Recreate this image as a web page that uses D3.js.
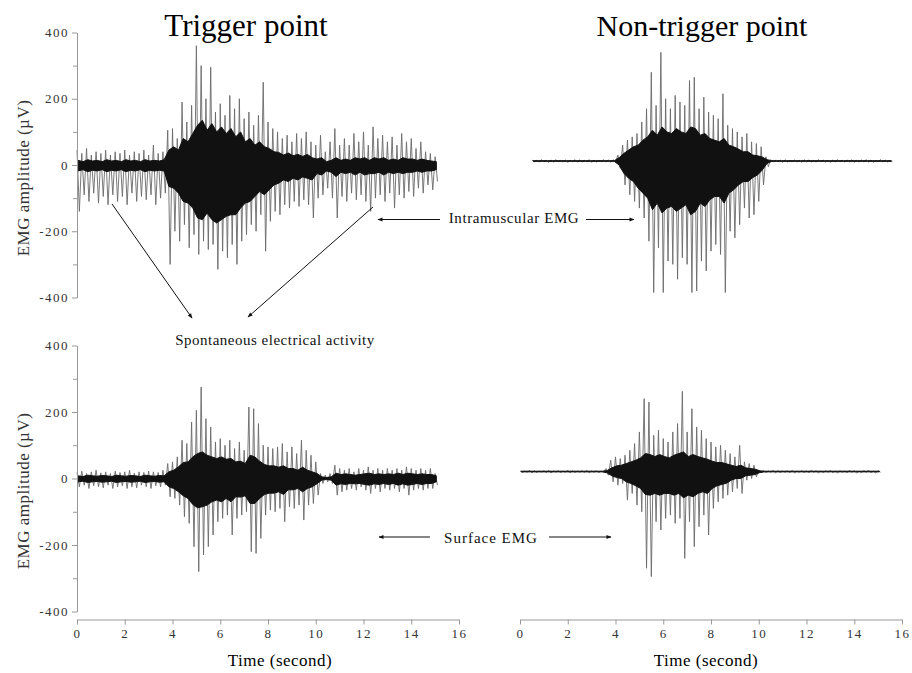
<!DOCTYPE html>
<html>
<head>
    <meta charset="utf-8">
    <title>EMG trigger point</title>
    <script src="https://cdnjs.cloudflare.com/ajax/libs/d3/7.8.5/d3.min.js"></script>
    <style>
        body { margin: 0; background: #fff; }
        text { font-family: "Liberation Serif", "DejaVu Serif", serif; }
    </style>
</head>
<body>
<script>
    var width = 912,
        height = 673;

    // sampling grid of the traces (seconds)
    var step = 0.2;

    // trigger point, intramuscular (top left)
    // hi/lo = tallest spikes per bin, midHi/midLo = extent of the dense dark band
    var tlStart = 0;
    var tlHi = [45,35,50,30,40,35,45,30,40,35,45,30,40,35,45,30,60,35,40,105,
        110,80,190,130,180,360,300,200,295,160,185,150,210,170,200,140,160,120,150,250,
        130,110,100,80,90,70,95,80,100,70,60,90,40,70,110,60,80,60,95,70,
        100,60,115,80,90,70,85,60,95,70,80,50,70,40,35,25];
    var tlLo = [-140,-90,-110,-85,-115,-95,-120,-90,-110,-95,-120,-85,-110,-95,-105,-90,-120,-100,-85,-300,
        -200,-230,-180,-250,-210,-270,-230,-255,-240,-315,-260,-280,-240,-300,-230,-210,-180,-200,-150,-260,
        -170,-140,-150,-120,-130,-110,-125,-105,-120,-160,-100,-90,-70,-100,-160,-95,-110,-85,-105,-90,
        -110,-140,-100,-90,-110,-85,-130,-90,-100,-80,-95,-70,-85,-60,-75,-50];
    var tlMidHi = [14,10,16,12,14,10,16,12,14,10,16,12,14,10,16,12,14,12,16,45,
        55,45,80,70,95,120,135,105,125,100,115,95,110,85,100,70,80,60,70,55,
        50,40,38,30,36,28,32,26,32,22,18,22,10,14,22,14,18,14,22,18,
        22,14,22,18,22,14,18,14,22,18,18,14,18,14,12,10];
    var tlMidLo = [-18,-14,-20,-16,-18,-14,-20,-16,-18,-14,-20,-16,-18,-14,-20,-16,-18,-16,-18,-65,
        -70,-85,-110,-115,-130,-160,-165,-145,-165,-175,-165,-155,-150,-150,-130,-115,-110,-95,-80,-90,
        -75,-60,-55,-45,-50,-40,-45,-36,-40,-45,-26,-30,-18,-22,-35,-22,-26,-22,-30,-22,
        -30,-26,-26,-22,-30,-22,-26,-22,-26,-22,-22,-18,-22,-18,-18,-14];

    // non-trigger point, intramuscular (top right)
    var trStart = 0.5;
    var trHi = [15,14,16,14,15,16,14,15,14,16,15,14,16,15,14,16,15,16,30,60,
        75,85,95,130,170,280,180,340,200,170,210,190,180,255,265,170,205,160,150,140,
        215,120,110,100,85,95,70,65,55,25,16,14,15,16,14,15,14,16,15,14,
        16,15,14,15,16,14,15,16,14,15,16,15,14,16,15,14];
    var trLo = [10,9,10,8,9,10,9,8,10,9,9,10,8,9,10,9,8,9,-10,-60,
        -90,-110,-130,-160,-230,-385,-250,-385,-290,-300,-345,-280,-300,-385,-380,-290,-320,-260,-240,-270,
        -385,-200,-220,-180,-130,-160,-150,-110,-60,-5,9,10,8,9,10,9,8,10,9,9,
        10,9,8,9,10,9,10,8,9,10,9,8,10,9,9,10];
    var trMidHi = [13,13,13,13,13,13,13,13,13,13,13,13,13,13,13,13,13,13,22,35,
        45,55,60,75,85,105,90,115,100,95,110,100,95,115,110,90,95,80,75,70,
        80,60,55,48,40,40,30,28,24,16,13,13,13,13,13,13,13,13,13,13,
        13,13,13,13,13,13,13,13,13,13,13,13,13,13,13,13];
    var trMidLo = [11,11,11,11,11,11,11,11,11,11,11,11,11,11,11,11,11,11,0,-25,
        -40,-50,-70,-85,-100,-135,-115,-145,-130,-125,-140,-130,-120,-150,-140,-115,-125,-105,-95,-95,
        -115,-85,-75,-60,-50,-50,-38,-30,-15,5,11,11,11,11,11,11,11,11,11,11,
        11,11,11,11,11,11,11,11,11,11,11,11,11,11,11,11];

    // trigger point, surface (bottom left)
    var blStart = 0;
    var blHi = [18,22,15,20,25,17,20,15,22,18,20,25,16,20,18,22,20,18,25,45,
        50,65,115,105,170,205,275,180,155,110,120,100,115,90,110,85,215,210,165,100,
        95,90,95,105,80,95,75,115,85,70,50,15,10,15,40,30,25,30,20,30,
        25,35,25,30,25,30,25,30,25,35,30,25,30,25,30,15];
    var blLo = [-25,-20,-30,-22,-25,-28,-20,-30,-25,-22,-30,-25,-28,-20,-25,-30,-22,-25,-20,-55,
        -60,-80,-115,-135,-205,-280,-230,-205,-170,-130,-120,-110,-170,-120,-110,-100,-220,-225,-180,-110,
        -95,-100,-90,-130,-85,-90,-80,-125,-80,-75,-50,-15,-10,-15,-50,-40,-35,-30,-35,-25,
        -35,-45,-30,-40,-30,-35,-30,-40,-30,-50,-35,-30,-35,-30,-30,-20];
    var blMidHi = [8,6,10,8,7,9,8,6,10,8,7,9,8,6,10,8,7,9,8,20,
        25,35,48,50,65,75,80,70,65,60,65,58,60,50,52,45,70,65,52,42,
        38,38,34,38,30,30,25,34,25,20,15,5,3,5,16,12,14,12,10,12,
        14,16,12,14,12,14,12,16,12,16,14,12,14,12,12,8];
    var blMidLo = [-10,-8,-12,-10,-9,-11,-10,-8,-12,-10,-9,-11,-10,-8,-12,-10,-9,-11,-10,-25,
        -30,-40,-52,-60,-78,-88,-85,-80,-70,-65,-70,-60,-70,-55,-56,-52,-75,-75,-60,-48,
        -44,-44,-40,-48,-34,-34,-30,-40,-30,-25,-16,-5,-3,-5,-20,-16,-18,-15,-16,-15,
        -18,-20,-16,-18,-15,-18,-15,-20,-16,-20,-18,-15,-18,-15,-15,-10];

    // non-trigger point, surface (bottom right)
    var brStart = 0;
    var brHi = [23,22,24,23,22,23,24,22,23,22,24,23,22,23,24,22,23,22,30,55,
        65,60,70,85,105,140,240,230,130,145,120,110,140,165,262,140,210,155,145,120,
        110,95,100,85,75,65,100,50,45,40,25,23,22,24,23,22,23,24,22,23,
        22,24,23,22,23,24,22,23,22,24,23,22,23,24,22,23];
    var brLo = [18,19,17,18,19,18,17,19,18,19,17,18,19,18,17,19,18,19,10,-10,
        -20,-15,-65,-45,-80,-100,-270,-295,-130,-155,-120,-110,-135,-120,-240,-130,-205,-145,-110,-170,
        -90,-70,-60,-50,-40,-30,-45,-5,0,5,17,18,19,17,18,19,18,17,19,18,
        18,19,17,18,19,18,17,19,18,19,17,18,19,18,17,19];
    var brMidHi = [22,22,22,22,22,22,22,22,22,22,22,22,22,22,22,22,22,22,24,32,
        38,40,45,50,55,62,75,72,66,72,66,62,70,75,80,66,72,66,62,58,
        52,48,48,44,40,36,40,32,30,28,23,22,22,22,22,22,22,22,22,22,
        22,22,22,22,22,22,22,22,22,22,22,22,22,22,22,22];
    var brMidLo = [20,20,20,20,20,20,20,20,20,20,20,20,20,20,20,20,20,20,17,8,
        3,0,-10,-15,-22,-30,-48,-50,-45,-50,-45,-45,-50,-45,-58,-50,-55,-45,-40,-45,
        -30,-22,-18,-14,-5,0,0,8,10,12,18,20,20,20,20,20,20,20,20,20,
        20,20,20,20,20,20,20,20,20,20,20,20,20,20,20,20];

    var yTicks = [-400, -200, 0, 200, 400],
        yMinor = [-300, -100, 100, 300],
        xTicks = [0, 2, 4, 6, 8, 10, 12, 14, 16];

    var xLeft = d3.scaleLinear().domain([0, 16]).range([77, 459]);
    var xRight = d3.scaleLinear().domain([0, 16]).range([520, 902]);
    var yTop = d3.scaleLinear().domain([-400, 400]).range([297.5, 32.5]);
    var yBottom = d3.scaleLinear().domain([-400, 400]).range([611.5, 345.5]);

    var svg = d3.select("body")
        .append("svg")
        .attr("width", width)
        .attr("height", height);

    var drawTrace = function(x, y, start, hi, lo, midHi, midLo) {
        // spikes: up to hi, down to lo half a bin later
        var pts = [];
        hi.forEach(function(v, i) {
            pts.push([start + i * step, v]);
            pts.push([start + i * step + step / 2, lo[i]]);
        });
        svg.append("path")
            .attr("d", d3.line().x(function(d) { return x(d[0]); }).y(function(d) { return y(d[1]); })(pts))
            .attr("fill", "none")
            .attr("stroke", "#6a6a6a")
            .attr("stroke-width", 0.9);

        // dense dark band
        var band = midHi.map(function(v, i) { return [start + i * step + step / 4, v, midLo[i]]; });
        svg.append("path")
            .attr("d", d3.area()
                .x(function(d) { return x(d[0]); })
                .y0(function(d) { return y(d[2]); })
                .y1(function(d) { return y(d[1]); })(band))
            .attr("fill", "#111")
            .attr("stroke", "#111")
            .attr("stroke-width", 1);
    };

    drawTrace(xLeft, yTop, tlStart, tlHi, tlLo, tlMidHi, tlMidLo);
    drawTrace(xRight, yTop, trStart, trHi, trLo, trMidHi, trMidLo);
    drawTrace(xLeft, yBottom, blStart, blHi, blLo, blMidHi, blMidLo);
    drawTrace(xRight, yBottom, brStart, brHi, brLo, brMidHi, brMidLo);

    var styleAxis = function(g) {
        g.selectAll("path, line").attr("stroke", "#999");
        g.selectAll("text")
            .attr("fill", "#333")
            .style("font-family", "'Liberation Serif', serif")
            .style("font-size", "13px")
            .style("letter-spacing", "1.5px");
    };

    [yTop, yBottom].forEach(function(y) {
        svg.append("g")
            .attr("transform", "translate(77,0)")
            .call(d3.axisLeft(y).tickValues(yTicks).tickSize(5).tickSizeOuter(0).tickFormat(function(d) { return d; }))
            .call(styleAxis);
        svg.append("g")
            .attr("transform", "translate(77,0)")
            .call(d3.axisLeft(y).tickValues(yMinor).tickSize(4).tickFormat(""))
            .call(styleAxis)
            .select(".domain").remove();
    });

    [[xLeft, 280], [xRight, 706]].forEach(function(p) {
        svg.append("g")
            .attr("transform", "translate(0,619.5)")
            .call(d3.axisBottom(p[0]).tickValues(xTicks).tickSize(5).tickSizeOuter(0).tickPadding(4))
            .call(styleAxis);
        svg.append("text")
            .attr("x", p[1])
            .attr("y", 666)
            .attr("text-anchor", "middle")
            .style("font-size", "17px")
            .style("letter-spacing", "0.5px")
            .text("Time (second)");
    });

    [178, 491].forEach(function(cy) {
        svg.append("text")
            .attr("transform", "translate(29," + cy + ") rotate(-90)")
            .attr("text-anchor", "middle")
            .attr("fill", "#333")
            .style("font-size", "17px")
            .style("letter-spacing", "0.5px")
            .text("EMG amplitude (\u00b5V)");
    });

    svg.append("text").attr("x", 246).attr("y", 36).attr("text-anchor", "middle")
        .style("font-size", "31px").text("Trigger point");
    svg.append("text").attr("x", 702).attr("y", 36).attr("text-anchor", "middle")
        .style("font-size", "30px").text("Non-trigger point");

    // annotations
    var defs = svg.append("defs");
    defs.append("marker")
        .attr("id", "head")
        .attr("viewBox", "0 0 10 10")
        .attr("refX", 9).attr("refY", 5)
        .attr("markerWidth", 7).attr("markerHeight", 5)
        .attr("orient", "auto")
        .append("path").attr("d", "M0,1L10,5L0,9Z").attr("fill", "#111");

    var arrow = function(x1, y1, x2, y2) {
        svg.append("line")
            .attr("x1", x1).attr("y1", y1).attr("x2", x2).attr("y2", y2)
            .attr("stroke", "#111").attr("stroke-width", 1)
            .attr("marker-end", "url(#head)");
    };

    var note = function(x, y, s, ls) {
        svg.append("text").attr("x", x).attr("y", y).attr("text-anchor", "middle")
            .attr("fill", "#111")
            .style("font-size", "15px").style("letter-spacing", ls + "px").text(s);
    };

    note(514, 223, "Intramuscular EMG", 0.6);
    arrow(440, 219.5, 378, 219.5);
    arrow(586, 219.5, 634, 219.5);

    note(275, 345, "Spontaneous electrical activity", 0.5);
    arrow(112, 204, 192, 318);
    arrow(373, 207, 248, 317);

    note(491, 543, "Surface EMG", 1);
    arrow(430, 537, 379, 537);
    arrow(549, 537, 611, 537);
</script>
</body>
</html>
